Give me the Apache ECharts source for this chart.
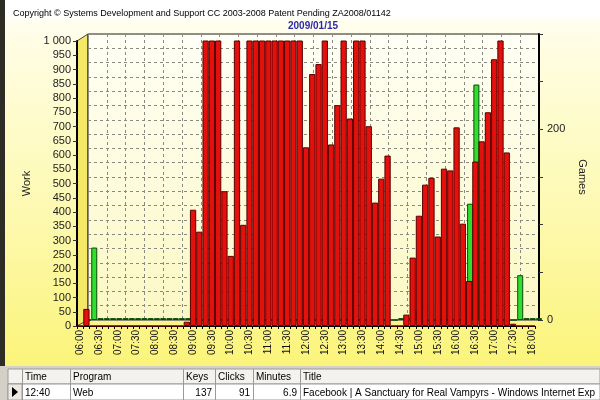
<!DOCTYPE html>
<html>
<head>
<meta charset="utf-8">
<title>Work / Games 2009/01/15</title>
<script type="text/javascript" src="https://cdn.jsdelivr.net/npm/echarts@6/dist/echarts.min.js"></script>
<style>
html, body { margin: 0; padding: 0; background: #fff; }
#main { width: 600px; height: 400px; }
</style>
</head>
<body>
<div id="main"></div>
<script type="text/javascript">
// 10 minute slots, 06:00 .. 18:00
var times = ['06:00','06:10','06:20','06:30','06:40','06:50',
	'07:00','07:10','07:20','07:30','07:40','07:50',
	'08:00','08:10','08:20','08:30','08:40','08:50',
	'09:00','09:10','09:20','09:30','09:40','09:50',
	'10:00','10:10','10:20','10:30','10:40','10:50',
	'11:00','11:10','11:20','11:30','11:40','11:50',
	'12:00','12:10','12:20','12:30','12:40','12:50',
	'13:00','13:10','13:20','13:30','13:40','13:50',
	'14:00','14:10','14:20','14:30','14:40','14:50',
	'15:00','15:10','15:20','15:30','15:40','15:50',
	'16:00','16:10','16:20','16:30','16:40','16:50',
	'17:00','17:10','17:20','17:30','17:40','17:50',
	'18:00'];

// Work (left axis) - bars above 1000 run off the top of the chart
var work = [0, 60, 0, 0, 0, 0,
	0, 0, 0, 0, 0, 0,
	0, 0, 0, 0, 0, 15,
	408, 331, 1200, 1200, 1200, 473,
	246, 1200, 355, 1200, 1200, 1200,
	1200, 1200, 1200, 1200, 1200, 1200,
	627, 884, 919, 1200, 637, 775,
	1200, 728, 1200, 1200, 701, 433,
	517, 598, 0, 0, 40, 240,
	387, 496, 520, 314, 552, 546,
	697, 359, 158, 577, 648, 750,
	936, 1200, 609, 8, 0, 0,
	0];

// Games (right axis)
var games = [0, 76, 2, 2, 2, 2,
	2, 2, 2, 2, 2, 2,
	2, 2, 2, 2, 2, 2,
	0, 0, 0, 0, 0, 0,
	0, 0, 0, 0, 0, 0,
	0, 0, 0, 0, 0, 0,
	0, 0, 0, 0, 0, 0,
	0, 0, 0, 0, 0, 0,
	0, 0, 2, 2, 10, 0,
	0, 0, 0, 0, 0, 0,
	0, 122, 247, 0, 0, 0,
	0, 0, 0, 47, 2, 2,
	2];

var tableHead = ['Time', 'Program', 'Keys', 'Clicks', 'Minutes', 'Title'];
var tableRow = ['12:40', 'Web', '137', '91', '6.9', 'Facebook | A Sanctuary for Real Vampyrs - Windows Internet Exp'];

var font = 'Liberation Sans, Arial, sans-serif';
var dom = document.getElementById('main');
var myChart = echarts.init(dom, null, { renderer: 'canvas' });

// bottom grid table (plain texts)
var colLeft = [22, 70, 183, 215, 253, 300];
var colRight = [70, 183, 215, 253, 300, 600];
var colAlign = ['left', 'left', 'right', 'right', 'right', 'left'];
var tableParts = [
	{ type: 'rect', shape: { x: 0, y: 366, width: 600, height: 34 }, style: { fill: '#d4d0c8' } },
	{ type: 'rect', shape: { x: 8, y: 369, width: 592, height: 15 }, style: { fill: '#f3f2ee', stroke: '#9a9a9a', lineWidth: 1 } },
	{ type: 'rect', shape: { x: 8, y: 384, width: 592, height: 16 }, style: { fill: '#ffffff', stroke: '#9a9a9a', lineWidth: 1 } },
	{ type: 'rect', shape: { x: 8, y: 384, width: 14, height: 16 }, style: { fill: '#ece9e0', stroke: '#9a9a9a', lineWidth: 1 } },
	{ type: 'polygon', shape: { points: [[12, 387], [12, 397], [18, 392]] }, style: { fill: '#000' } }
];
for (var c = 0; c < tableHead.length; c++) {
	tableParts.push({ type: 'line', shape: { x1: colLeft[c] + 0.5, y1: 369, x2: colLeft[c] + 0.5, y2: 400 }, style: { stroke: '#9a9a9a', lineWidth: 1 } });
	tableParts.push({ type: 'text', x: colLeft[c] + 3, y: 372, style: { text: tableHead[c], font: '10px ' + font, fill: '#000' } });
	tableParts.push({
		type: 'text',
		x: colAlign[c] == 'right' ? colRight[c] - 3 : colLeft[c] + 3,
		y: 388,
		style: { text: tableRow[c], font: '10px ' + font, fill: '#000', align: colAlign[c] }
	});
}

option = {
	backgroundColor: {
		type: 'linear', x: 0, y: 0, x2: 0, y2: 1,
		colorStops: [
			{ offset: 0, color: '#ffffff' },
			{ offset: 0.1, color: '#fffde4' },
			{ offset: 0.55, color: '#fdf9ae' },
			{ offset: 0.9, color: '#fbf47c' }
		]
	},
	animation: false,
	title: [{
		text: 'Copyright \u00a9 Systems Development and Support CC 2003-2008 Patent Pending ZA2008/01142',
		left: 8, top: 4,
		textStyle: { fontSize: 9, fontWeight: 'normal', color: '#000', fontFamily: font }
	}, {
		text: '2009/01/15',
		left: 283, top: 16,
		textStyle: { fontSize: 10, fontWeight: 'bold', color: '#2a2aa8', fontFamily: font }
	}],
	grid: [{
		// back wall (green series, right axis)
		left: 88, width: 451, top: 34, height: 286,
		show: true,
		backgroundColor: {
			type: 'linear', x: 0, y: 0, x2: 0, y2: 1,
			colorStops: [{ offset: 0, color: '#fffff6' }, { offset: 1, color: '#fcf8c4' }]
		},
		borderColor: '#222', borderWidth: 1
	}, {
		// front (red series, left axis)
		left: 77, width: 458, top: 41, height: 285
	}],
	xAxis: [{
		gridIndex: 0,
		type: 'category',
		data: times,
		boundaryGap: false,
		axisLine: { show: false },
		axisTick: { show: false },
		axisLabel: { show: false },
		splitLine: { show: true, interval: 2, lineStyle: { color: '#8a8a80', type: [3, 3], width: 1 } }
	}, {
		gridIndex: 1,
		type: 'category',
		data: times,
		axisLine: { lineStyle: { color: '#000', width: 1 } },
		axisTick: { show: true, interval: 0, length: 3, lineStyle: { color: '#000' } },
		axisLabel: { interval: 2, rotate: 90, fontSize: 10, color: '#111', margin: 4, fontFamily: font }
	}],
	yAxis: [{
		gridIndex: 0,
		type: 'value',
		position: 'right',
		min: 0, max: 300, interval: 50,
		name: 'Games',
		nameLocation: 'middle',
		nameRotate: -90,
		nameGap: 32,
		nameTextStyle: { fontSize: 11, color: '#222', fontFamily: font },
		axisLine: { show: true, lineStyle: { color: '#000', width: 2 } },
		axisTick: { show: true, length: 4, lineStyle: { color: '#333' } },
		axisLabel: {
			fontSize: 11, color: '#222', margin: 8, fontFamily: font,
			formatter: function (v) { return (v === 0 || v === 200) ? String(v) : ''; }
		},
		splitLine: { show: false }
	}, {
		// back wall horizontal grid lines in Work units
		gridIndex: 0,
		type: 'value',
		position: 'left',
		min: 0, max: 1000, interval: 50,
		axisLine: { show: false },
		axisTick: { show: false },
		axisLabel: { show: false },
		splitLine: { show: true, lineStyle: { color: '#8a8a80', type: [3, 3], width: 1 } }
	}, {
		gridIndex: 1,
		type: 'value',
		min: 0, max: 1000, interval: 50,
		name: 'Work',
		nameLocation: 'middle',
		nameRotate: 90,
		nameGap: 32,
		nameTextStyle: { fontSize: 11, color: '#222', fontFamily: font },
		axisLine: { show: true, lineStyle: { color: '#000', width: 2 } },
		axisTick: { show: true, length: 4, lineStyle: { color: '#333' } },
		axisLabel: {
			fontSize: 11, color: '#222', margin: 6, fontFamily: font,
			formatter: function (v) { return v >= 1000 ? '1 000' : String(v); }
		},
		splitLine: { show: false }
	}],
	graphic: [
		{ type: 'rect', z: -1, shape: { x: 0, y: 0, width: 600, height: 17 }, style: { fill: '#ffffff' } },
		{ type: 'rect', z: 10, shape: { x: 0, y: 0, width: 5, height: 366 }, style: { fill: '#2d2d26' } },
		{ type: 'polygon', z: -1, shape: { points: [[77, 41], [88, 34], [88, 320], [77, 326]] }, style: { fill: '#f4e866', stroke: '#444', lineWidth: 1 } },
		{ type: 'group', children: tableParts }
	],
	series: [{
		name: 'Games',
		type: 'bar',
		xAxisIndex: 0,
		yAxisIndex: 0,
		data: games,
		barWidth: 6,
		clip: true,
		itemStyle: { color: '#2ee02e', borderColor: '#0c4a0c', borderWidth: 1 }
	}, {
		name: 'Work',
		type: 'bar',
		xAxisIndex: 1,
		yAxisIndex: 2,
		data: work,
		barCategoryGap: '0%',
		clip: true,
		itemStyle: { color: '#e4100c', borderColor: '#5a0000', borderWidth: 1 }
	}]
};

if (option && typeof option === 'object') {
	myChart.setOption(option, true);
}
window.addEventListener('resize', function () {
	myChart.resize();
});
</script>
</body>
</html>
